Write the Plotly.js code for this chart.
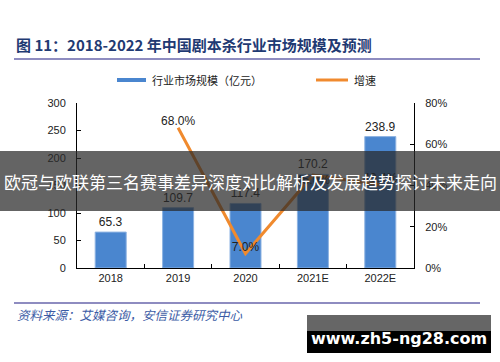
<!DOCTYPE html>
<html>
<head>
<meta charset="utf-8">
<script src="https://cdn.plot.ly/plotly-3.0.1.min.js"></script>
<style>html,body{margin:0;padding:0;background:#fff;}#chart{width:500px;height:362px;}</style>
</head>
<body>
<div id="chart"></div>
<script>
const categories = ['2018', '2019', '2020', '2021E', '2022E'];
const marketSize = [65.3, 109.7, 117.4, 170.2, 238.9];
const growthCats = ['2019', '2020', '2021E', '2022E'];
const growthRate = [0.68, 0.07, 0.45, 0.404];
const growthLabelPos = ['top center', 'top center', 'bottom center', 'top center'];
const leftTicks = [0, 50, 100, 150, 200, 250, 300];
const rightTicks = [0, 0.2, 0.4, 0.6, 0.8];

const L = 77, R = 414, T = 103, B = 268;
const px = p => (p - L) / (R - L);
const py = p => (B - p) / (B - T);
const cjk = '"Noto Sans CJK SC", "Noto Sans CJK JP", sans-serif';
const arial = '"Liberation Sans", Arial, sans-serif';

const traces = [
  {
    type: 'bar', x: categories, y: marketSize, name: '行业市场规模（亿元）',
    marker: {color: '#4A86CF', line: {color: '#8DB3E2', width: 1}},
    text: marketSize.map(v => v.toFixed(1)), textposition: 'outside',
    textfont: {family: arial, size: 12, color: '#222'}, cliponaxis: false,
    hoverinfo: 'skip'
  },
  {
    type: 'scatter', mode: 'lines+text', x: growthCats, y: growthRate, yaxis: 'y2', name: '增速',
    line: {color: '#F08A2E', width: 3},
    text: growthRate.map(v => (v * 100).toFixed(1) + '%'), textposition: growthLabelPos,
    textfont: {family: arial, size: 12, color: '#222'}, cliponaxis: false,
    hoverinfo: 'skip'
  }
];

const layout = {
  width: 500, height: 362,
  margin: {l: L, r: 500 - R, t: T, b: 362 - B},
  paper_bgcolor: '#fff', plot_bgcolor: '#fff',
  showlegend: false,
  bargap: 0.54,
  xaxis: {
    type: 'category', showline: true, linecolor: '#000', linewidth: 1,
    ticks: 'inside', tickson: 'boundaries', ticklen: 4, tickcolor: '#000',
    tickfont: {family: arial, size: 11, color: '#222'}, showgrid: false, zeroline: false
  },
  yaxis: {
    range: [0, 300], tickvals: leftTicks, showline: true, linecolor: '#000', linewidth: 1,
    ticks: 'inside', ticklen: 4, tickcolor: '#000', ticklabelstandoff: 8,
    tickfont: {family: arial, size: 11, color: '#222'}, showgrid: false, zeroline: false
  },
  yaxis2: {
    range: [0, 0.8], tickvals: rightTicks, tickformat: '.0%', overlaying: 'y', side: 'right',
    showline: true, linecolor: '#000', linewidth: 1,
    ticks: 'inside', ticklen: 4, tickcolor: '#000', ticklabelstandoff: 8,
    tickfont: {family: arial, size: 11, color: '#222'}, showgrid: false, zeroline: false
  },
  shapes: [
    {type: 'line', xref: 'paper', yref: 'paper', x0: px(14), x1: px(480), y0: py(59), y1: py(59), line: {color: '#8E8CC0', width: 2}},
    {type: 'rect', xref: 'paper', yref: 'paper', x0: px(117), x1: px(146), y0: py(78), y1: py(82), fillcolor: '#4A86CF', line: {width: 0}},
    {type: 'line', xref: 'paper', yref: 'paper', x0: px(316), x1: px(348), y0: py(80), y1: py(80), line: {color: '#F08A2E', width: 3}},
    {type: 'line', xref: 'paper', yref: 'paper', x0: px(14), x1: px(480), y0: py(303), y1: py(303), line: {color: '#8E8CC0', width: 2}},
    {type: 'rect', xref: 'paper', yref: 'paper', layer: 'above', x0: px(0), x1: px(500), y0: py(151), y1: py(211), fillcolor: 'rgba(40,40,40,0.72)', line: {width: 0}},
    {type: 'rect', xref: 'paper', yref: 'paper', layer: 'above', x0: px(307), x1: px(491), y0: py(315), y1: py(331), fillcolor: '#666666', line: {width: 0}},
    {type: 'rect', xref: 'paper', yref: 'paper', layer: 'above', x0: px(307), x1: px(491), y0: py(331), y1: py(353), fillcolor: '#000000', line: {width: 0}}
  ],
  annotations: [
    {xref: 'paper', yref: 'paper', x: px(14), y: py(45), xanchor: 'left', yanchor: 'middle', showarrow: false,
     text: '<b>图 11：2018-2022 年中国剧本杀行业市场规模及预测</b>', font: {family: cjk, size: 15, color: '#1F3A73'}},
    {xref: 'paper', yref: 'paper', x: px(150), y: py(80), xanchor: 'left', yanchor: 'middle', showarrow: false,
     text: '行业市场规模（亿元）', font: {family: cjk, size: 11, color: '#222'}},
    {xref: 'paper', yref: 'paper', x: px(352), y: py(80), xanchor: 'left', yanchor: 'middle', showarrow: false,
     text: '增速', font: {family: cjk, size: 11, color: '#222'}},
    {xref: 'paper', yref: 'paper', x: px(15), y: py(314), xanchor: 'left', yanchor: 'middle', showarrow: false,
     text: '<i>资料来源：艾媒咨询，安信证券研究中心</i>', font: {family: cjk, size: 12.5, color: '#3B5BA5'}},
    {xref: 'paper', yref: 'paper', x: px(250), y: py(181), xanchor: 'center', yanchor: 'middle', showarrow: false,
     text: '欧冠与欧联第三名赛事差异深度对比解析及发展趋势探讨未来走向', font: {family: cjk, size: 17, color: '#fff'}},
    {xref: 'paper', yref: 'paper', x: px(399), y: py(338), xanchor: 'center', yanchor: 'middle', showarrow: false,
     text: '<b>www.zh5-ng28.com</b>', font: {family: '"DejaVu Sans", sans-serif', size: 16, color: '#fff'}}
  ]
};

Plotly.newPlot('chart', traces, layout, {displayModeBar: false, staticPlot: true});
</script>
</body>
</html>
